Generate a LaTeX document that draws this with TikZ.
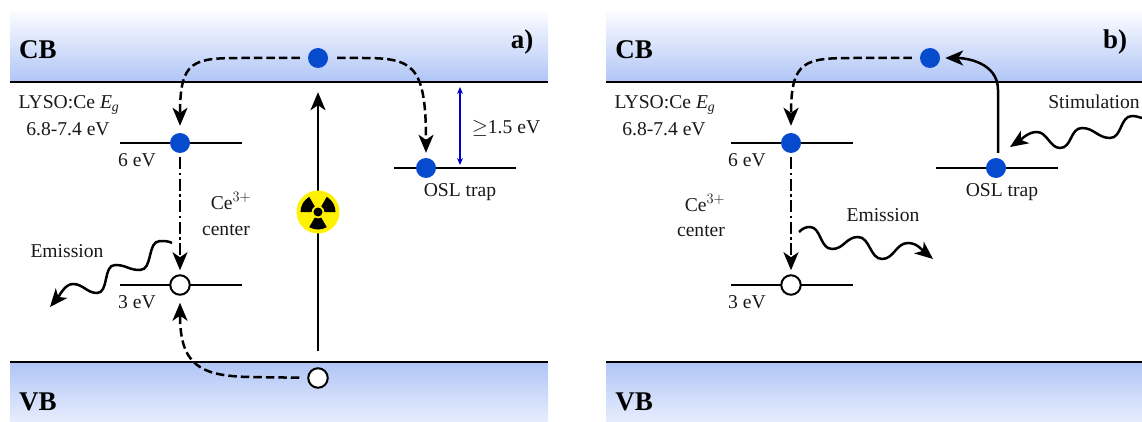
\documentclass[tikz,border=0pt]{standalone}
\usepackage{fontspec}
\setmainfont{Liberation Serif}
\usetikzlibrary{arrows.meta,calc}
\definecolor{bandblue}{RGB}{176,197,246}
\definecolor{bandpale}{RGB}{250,251,255}
\definecolor{bandlow}{RGB}{231,237,253}
\definecolor{dotblue}{RGB}{6,74,205}
\definecolor{arrowblue}{RGB}{0,0,200}
\tikzset{
  lbl/.style={font=\fontsize{19.6}{22}\selectfont,inner sep=0pt,text=black!90},
  bandlbl/.style={font=\fontsize{27}{28}\selectfont\bfseries,inner sep=0pt},
  bandedge/.style={line width=2.6pt,black},
  level/.style={line width=2.5pt,black},
  fulldot/.style={circle,fill=dotblue,minimum size=20pt,inner sep=0pt},
  holedot/.style={circle,draw=black,line width=2pt,fill=white,minimum size=19.5pt,inner sep=0pt},
  tip/.style={-{Stealth[length=18pt,width=15pt,inset=5pt]}},
  flow/.style={tip,line width=2.5pt,black},
  dashflow/.style={flow,dash pattern=on 8.5pt off 4pt},
  dotflow/.style={flow,dash pattern=on 12pt off 3.5pt on 2.5pt off 3.5pt},
  wave/.style={tip,line width=2.5pt,black},
  gap/.style={line width=1.6pt,arrowblue,{Stealth[length=7pt,width=6pt]}-{Stealth[length=7pt,width=6pt]}},
}
\begin{document}
\begin{tikzpicture}[x=1pt,y=-1pt]
\useasboundingbox (0,0) rectangle (1142,422);
% bands
\fill[top color=bandpale,bottom color=bandblue] (10,13) rectangle (548,82);
\fill[top color=bandblue,bottom color=bandlow] (10,362) rectangle (548,422);
\fill[top color=bandpale,bottom color=bandblue] (606,13) rectangle (1142,82);
\fill[top color=bandblue,bottom color=bandlow] (606,362) rectangle (1142,422);
\draw[bandedge] (10,82) -- (548,82);
\draw[bandedge] (10,362) -- (548,362);
\draw[bandedge] (606,82) -- (1142,82);
\draw[bandedge] (606,362) -- (1142,362);
% levels
\draw[level] (120,143) -- (242,143);
\draw[level] (120,285) -- (242,285);
\draw[level] (394,168) -- (516,168);
\draw[level] (731,143) -- (853,143);
\draw[level] (731,285) -- (853,285);
\draw[level] (936,168) -- (1058,168);
% states panel a
\node[fulldot] (cba) at (318,58) {};
\node[fulldot] (sixa) at (180,143) {};
\node[holedot] (threea) at (180,285) {};
\node[fulldot] (osla) at (426,168) {};
\node[holedot] (vba) at (318,378) {};
% states panel b
\node[fulldot] (cbb) at (930,58) {};
\node[fulldot] (sixb) at (791,143) {};
\node[holedot] (threeb) at (791,285) {};
\node[fulldot] (oslb) at (996,168) {};
% connectors panel a
\draw[dashflow,shorten <=8pt,shorten >=7pt] (cba) -- ++(-75,0) .. controls +(-50,0) and +(0,-83) .. (sixa);
\draw[dashflow,shorten <=9pt,shorten >=5pt] (cba) -- ++(45,0) .. controls +(50,0) and +(0,-103) .. (osla);
\draw[dotflow,shorten <=4pt,shorten >=4pt] (sixa) -- (threea);
\draw[dashflow,shorten <=8pt,shorten >=7pt] (vba) -- ++(-68,-1) .. controls +(-50,-1) and +(0,80) .. (threea);
\draw[flow,shorten <=16pt,shorten >=24pt] (vba) -- (cba);
\coordinate (gaptop) at (460,87);
\coordinate (gapbot) at (460,165);
\draw[gap] (gaptop) -- (gapbot);
% radiation symbol
\node[circle,fill=yellow,minimum size=43pt,inner sep=0pt] (rad) at (318,212) {};
\foreach \a in {90,210,330}{
  \fill[black] ($(rad)+(\a-30:6.5)$) arc[start angle=\a-30,end angle=\a+30,radius=6.5] -- ($(rad)+(\a+30:17.5)$) arc[start angle=\a+30,end angle=\a-30,radius=17.5] -- cycle;
}
\fill[black] (rad) circle (4.5);
% connectors panel b
\draw[dashflow,shorten <=8pt,shorten >=7pt] (cbb) -- ++(-75,0) .. controls +(-50,0) and +(0,-83) .. (sixb);
\draw[dotflow,shorten <=4pt,shorten >=4pt] (sixb) -- (threeb);
\draw[flow,shorten <=15pt,shorten >=5pt] (oslb) ++(2,0) -- ++(0,-78) .. controls +(0,-28) and +(35,0) .. (cbb);
% waves
\draw[wave] (172,243) .. controls (168,241) and (165,241) .. (160,241)
  .. controls (147,241) and (153,270) .. (140,270)
  .. controls (128,270) and (127,265) .. (115,265)
  .. controls (103,265) and (109,293) .. (97,293)
  .. controls (87,293) and (83,284) .. (73,284)
  .. controls (65,284) and (60,295) .. (50,307);
\draw[wave] (799,232) .. controls (803,228) and (806,227) .. (810,227)
  .. controls (821,227) and (820,249) .. (832,249)
  .. controls (844,249) and (846,237) .. (858,237)
  .. controls (870,237) and (870,259) .. (882,259)
  .. controls (894,259) and (896,243) .. (908,243)
  .. controls (917,243) and (922,250) .. (933,259);
\draw[wave] (1142,118) .. controls (1138,117) and (1136,116) .. (1132,116)
  .. controls (1120,116) and (1122,138) .. (1110,138)
  .. controls (1098,138) and (1094,128) .. (1082,128)
  .. controls (1070,128) and (1072,148) .. (1060,148)
  .. controls (1050,148) and (1047,132) .. (1037,132)
  .. controls (1028,132) and (1022,139) .. (1010,147);
% labels
\node[bandlbl] (cbl) at (38,50) {CB};
\node[bandlbl] (vbl) at (38,402) {VB};
\node[bandlbl] (pa) at (522,42) {a)};
\node[bandlbl] (cbr) at (634,50) {CB};
\node[bandlbl] (vbr) at (634,402) {VB};
\node[bandlbl] (pb) at (1115,42) {b)};
\node[lbl] (ly1) at (69,105) {LYSO:Ce \textit{E}\textsubscript{\textit{g}}};
\node[lbl] (ly2) at (68,129) {6.8-7.4 eV};
\node[lbl] (s1) at (137,160) {6 eV};
\node[lbl] (ce1) at (231,201) {Ce$^{3+}$};
\node[lbl] (ce2) at (226,230) {center};
\node[lbl] (e1) at (67,251) {Emission};
\node[lbl] (t1) at (137,302) {3 eV};
\node[lbl] (o1) at (460,192) {OSL trap};
\node[lbl] (g1) at (506,128) {$\geq$1.5 eV};
\node[lbl] (ly3) at (665,105) {LYSO:Ce \textit{E}\textsubscript{\textit{g}}};
\node[lbl] (ly4) at (664,129) {6.8-7.4 eV};
\node[lbl] (s2) at (747,160) {6 eV};
\node[lbl] (ce3) at (705,203) {Ce$^{3+}$};
\node[lbl] (ce4) at (701,231) {center};
\node[lbl] (e2) at (883,215) {Emission};
\node[lbl] (t2) at (747,302) {3 eV};
\node[lbl] (o2) at (1002,192) {OSL trap};
\node[lbl] (st) at (1094,102) {Stimulation};
\end{tikzpicture}
\end{document}
